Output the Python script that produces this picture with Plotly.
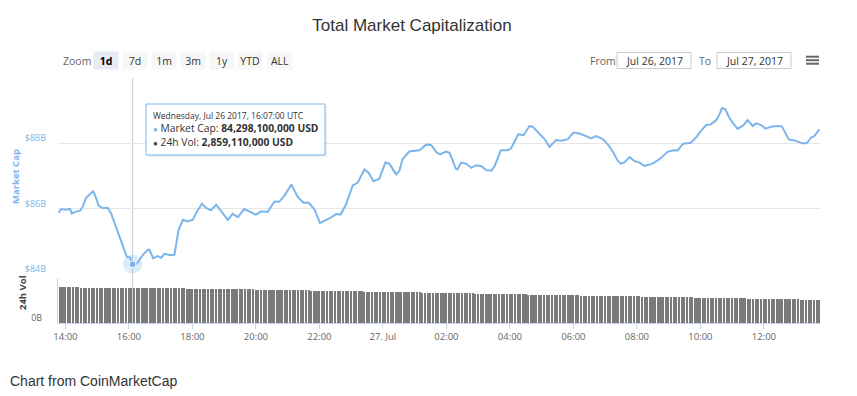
import plotly.graph_objects as go
import pandas as pd

# ---------------- DATA ----------------
cap_times = [
    "2017-07-26 13:47", "2017-07-26 13:52", "2017-07-26 14:01", "2017-07-26 14:09", "2017-07-26 14:12",
    "2017-07-26 14:20", "2017-07-26 14:28", "2017-07-26 14:33", "2017-07-26 14:39", "2017-07-26 14:52",
    "2017-07-26 14:55", "2017-07-26 15:03", "2017-07-26 15:10", "2017-07-26 15:20", "2017-07-26 15:26",
    "2017-07-26 15:33", "2017-07-26 15:42", "2017-07-26 15:48", "2017-07-26 15:56", "2017-07-26 16:02",
    "2017-07-26 16:07", "2017-07-26 16:15", "2017-07-26 16:26", "2017-07-26 16:36", "2017-07-26 16:39",
    "2017-07-26 16:46", "2017-07-26 16:54", "2017-07-26 17:01", "2017-07-26 17:07", "2017-07-26 17:17",
    "2017-07-26 17:26", "2017-07-26 17:34", "2017-07-26 17:42", "2017-07-26 17:51", "2017-07-26 18:01",
    "2017-07-26 18:07", "2017-07-26 18:18", "2017-07-26 18:26", "2017-07-26 18:35", "2017-07-26 18:45",
    "2017-07-26 18:54", "2017-07-26 19:07", "2017-07-26 19:16", "2017-07-26 19:26", "2017-07-26 19:38",
    "2017-07-26 19:48", "2017-07-26 20:00", "2017-07-26 20:10", "2017-07-26 20:22", "2017-07-26 20:35",
    "2017-07-26 20:44", "2017-07-26 20:54", "2017-07-26 21:07", "2017-07-26 21:19", "2017-07-26 21:30",
    "2017-07-26 21:40", "2017-07-26 21:51", "2017-07-26 22:01", "2017-07-26 22:13", "2017-07-26 22:22",
    "2017-07-26 22:32", "2017-07-26 22:40", "2017-07-26 22:50", "2017-07-26 23:03", "2017-07-26 23:12",
    "2017-07-26 23:25", "2017-07-26 23:33", "2017-07-26 23:42", "2017-07-26 23:53", "2017-07-27 00:05",
    "2017-07-27 00:12", "2017-07-27 00:25", "2017-07-27 00:31", "2017-07-27 00:37", "2017-07-27 00:50",
    "2017-07-27 01:09", "2017-07-27 01:22", "2017-07-27 01:31", "2017-07-27 01:41", "2017-07-27 01:48",
    "2017-07-27 01:59", "2017-07-27 02:06", "2017-07-27 02:18", "2017-07-27 02:21", "2017-07-27 02:28",
    "2017-07-27 02:37", "2017-07-27 02:47", "2017-07-27 02:56", "2017-07-27 03:06", "2017-07-27 03:15",
    "2017-07-27 03:25", "2017-07-27 03:31", "2017-07-27 03:43", "2017-07-27 03:56", "2017-07-27 04:02",
    "2017-07-27 04:16", "2017-07-27 04:26", "2017-07-27 04:37", "2017-07-27 04:43", "2017-07-27 04:53",
    "2017-07-27 05:05", "2017-07-27 05:15", "2017-07-27 05:27", "2017-07-27 05:37", "2017-07-27 05:49",
    "2017-07-27 06:00", "2017-07-27 06:11", "2017-07-27 06:24", "2017-07-27 06:33", "2017-07-27 06:43",
    "2017-07-27 06:55", "2017-07-27 07:05", "2017-07-27 07:14", "2017-07-27 07:24", "2017-07-27 07:30",
    "2017-07-27 07:36", "2017-07-27 07:46", "2017-07-27 07:55", "2017-07-27 08:05", "2017-07-27 08:14",
    "2017-07-27 08:24", "2017-07-27 08:33", "2017-07-27 08:46", "2017-07-27 08:58", "2017-07-27 09:08",
    "2017-07-27 09:17", "2017-07-27 09:27", "2017-07-27 09:42", "2017-07-27 09:52", "2017-07-27 10:01",
    "2017-07-27 10:11", "2017-07-27 10:20", "2017-07-27 10:30", "2017-07-27 10:36", "2017-07-27 10:41",
    "2017-07-27 10:47", "2017-07-27 10:55", "2017-07-27 11:02", "2017-07-27 11:10", "2017-07-27 11:20",
    "2017-07-27 11:29", "2017-07-27 11:39", "2017-07-27 11:45", "2017-07-27 11:55", "2017-07-27 12:03",
    "2017-07-27 12:14", "2017-07-27 12:23", "2017-07-27 12:34", "2017-07-27 12:39", "2017-07-27 12:47",
    "2017-07-27 12:58", "2017-07-27 13:06", "2017-07-27 13:13", "2017-07-27 13:21", "2017-07-27 13:29",
    "2017-07-27 13:35", "2017-07-27 13:45",
]
# Market cap, billions USD
cap_values = [
    85.87, 85.99, 85.97, 85.99, 85.85, 85.91, 85.94, 86.07, 86.33, 86.53,
    86.46, 86.09, 86.02, 86.02, 85.87, 85.56, 85.10, 84.89, 84.53, 84.51,
    84.298, 84.31, 84.58, 84.74, 84.74, 84.48, 84.55, 84.50, 84.62, 84.58,
    84.59, 85.35, 85.66, 85.61, 85.66, 85.87, 86.15, 86.02, 85.95, 86.12,
    85.92, 85.66, 85.84, 85.74, 85.99, 85.92, 85.82, 85.92, 85.90, 86.22,
    86.21, 86.40, 86.74, 86.36, 86.18, 86.18, 85.97, 85.56, 85.66, 85.73,
    85.84, 85.82, 86.12, 86.71, 86.79, 87.20, 87.10, 86.84, 86.91, 87.42,
    87.38, 87.05, 87.15, 87.51, 87.75, 87.79, 87.96, 87.95, 87.73, 87.66,
    87.75, 87.71, 87.22, 87.20, 87.41, 87.38, 87.25, 87.33, 87.30, 87.18,
    87.16, 87.30, 87.79, 87.79, 87.84, 88.28, 88.25, 88.53, 88.51, 88.35,
    88.14, 87.89, 88.10, 88.08, 88.12, 88.33, 88.30, 88.22, 88.15, 88.22,
    88.14, 87.97, 87.76, 87.46, 87.38, 87.41, 87.58, 87.46, 87.41, 87.31,
    87.35, 87.41, 87.56, 87.74, 87.79, 87.78, 87.99, 88.02, 88.18, 88.38,
    88.56, 88.58, 88.71, 88.89, 89.08, 89.05, 88.77, 88.61, 88.45, 88.53,
    88.71, 88.53, 88.61, 88.56, 88.45, 88.51, 88.53, 88.52, 88.38, 88.12,
    88.09, 88.04, 88.00, 88.00, 88.18, 88.22, 88.43,
]

# 24h volume, billions USD, one bar every 5 minutes starting 13:50 (rows = hours)
vol_start = "2017-07-26 13:50"
vol_values = [
    2.96, 2.96, 2.96, 2.95, 2.95, 2.92, 2.92, 2.92, 2.91, 2.91, 2.91, 2.91,
    2.90, 2.90, 2.90, 2.89, 2.89, 2.89, 2.88, 2.88, 2.88, 2.87, 2.87, 2.87,
    2.87, 2.86, 2.86, 2.86, 2.86, 2.86, 2.86, 2.88, 2.88, 2.87, 2.86, 2.86,
    2.86, 2.86, 2.85, 2.85, 2.85, 2.85, 2.85, 2.84, 2.84, 2.84, 2.84, 2.84,
    2.83, 2.83, 2.83, 2.83, 2.82, 2.82, 2.82, 2.82, 2.81, 2.81, 2.81, 2.80,
    2.80, 2.80, 2.79, 2.79, 2.79, 2.78, 2.78, 2.78, 2.77, 2.77, 2.77, 2.76,
    2.76, 2.76, 2.75, 2.75, 2.75, 2.74, 2.74, 2.74, 2.73, 2.73, 2.72, 2.72,
    2.72, 2.71, 2.71, 2.70, 2.70, 2.70, 2.69, 2.69, 2.68, 2.68, 2.68, 2.67,
    2.67, 2.66, 2.66, 2.66, 2.65, 2.65, 2.64, 2.64, 2.64, 2.63, 2.63, 2.62,
    2.62, 2.62, 2.61, 2.61, 2.60, 2.60, 2.60, 2.59, 2.59, 2.58, 2.58, 2.58,
    2.57, 2.57, 2.56, 2.56, 2.56, 2.55, 2.55, 2.54, 2.54, 2.54, 2.53, 2.53,
    2.52, 2.52, 2.52, 2.51, 2.51, 2.50, 2.50, 2.50, 2.49, 2.49, 2.48, 2.48,
    2.48, 2.47, 2.47, 2.46, 2.46, 2.46, 2.45, 2.45, 2.44, 2.44, 2.44, 2.43,
    2.43, 2.42, 2.42, 2.42, 2.41, 2.41, 2.40, 2.40, 2.40, 2.39, 2.39, 2.38,
    2.38, 2.38, 2.37, 2.37, 2.36, 2.36, 2.36, 2.35, 2.35, 2.34, 2.34, 2.34,
    2.33, 2.33, 2.32, 2.32, 2.32, 2.31, 2.31, 2.30, 2.30, 2.30, 2.29, 2.29,
    2.28, 2.28, 2.28, 2.27, 2.27, 2.26, 2.26, 2.26, 2.25, 2.25, 2.24, 2.24,
    2.24, 2.23, 2.23, 2.22, 2.22, 2.22, 2.21, 2.21, 2.20, 2.20, 2.20, 2.19,
    2.19, 2.18, 2.18, 2.18, 2.17, 2.17, 2.16, 2.16, 2.16, 2.15, 2.15, 2.14,
    2.14, 2.14, 2.13, 2.13, 2.12, 2.12, 2.12, 2.11, 2.11, 2.10, 2.10, 2.10,
    2.09, 2.09, 2.08, 2.08, 2.08, 2.07, 2.07, 2.06, 2.06, 2.06, 2.05, 2.05,
    2.04, 2.04, 2.04, 2.03, 2.03, 2.02, 2.02, 2.02, 2.01, 2.01, 2.00, 2.00,
    2.00, 1.99, 1.99, 1.98, 1.98, 1.98, 1.97, 1.97, 1.96, 1.96, 1.96, 1.95,
    1.95, 1.94, 1.94, 1.94, 1.93, 1.93, 1.92, 1.92, 1.92, 1.91, 1.91, 1.90,
]

x_tick_times = ["2017-07-26 14:00", "2017-07-26 16:00", "2017-07-26 18:00", "2017-07-26 20:00",
                "2017-07-26 22:00", "2017-07-27 00:00", "2017-07-27 02:00", "2017-07-27 04:00",
                "2017-07-27 06:00", "2017-07-27 08:00", "2017-07-27 10:00", "2017-07-27 12:00"]
x_tick_labels = ["14:00", "16:00", "18:00", "20:00", "22:00", "27. Jul",
                 "02:00", "04:00", "06:00", "08:00", "10:00", "12:00"]
cap_tick_vals = [84, 86, 88, 90]
cap_tick_labels = ["$84B", "$86B", "$88B", ""]
vol_tick_vals = [0, 3.7]
vol_tick_labels = ["0B", ""]

x_range = ["2017-07-26 13:46", "2017-07-27 13:46"]

hover_time = "2017-07-26 16:07"
hover_cap = 84.2981
hover_vol = 2.85911
hover_header = "Wednesday, Jul 26 2017, 16:07:00 UTC"

range_buttons = ["1d", "7d", "1m", "3m", "1y", "YTD", "ALL"]
date_from = "Jul 26, 2017"
date_to = "Jul 27, 2017"

# ---------------- LAYOUT HELPERS ----------------
W_FIG, H_FIG = 857, 396
OFF = 8                      # page body margin
L, R, T, B = 58, 820, 78, 323  # plot area in page pixels
PW, PH = R - L, B - T


def px(x):
    return (x - L) / PW


def py(y):
    return (B - y) / PH


vol_times = pd.date_range(vol_start, periods=len(vol_values), freq="5min")

BLUE = "#7cb5ec"
FONT = "Open Sans"

fig = go.Figure()

fig.add_trace(go.Bar(
    x=vol_times, y=vol_values, xaxis="x", yaxis="y2",
    marker=dict(color="#7a7a7a", line=dict(width=0)),
    width=5 * 60 * 1000 * 0.6,
))

fig.add_trace(go.Scatter(
    x=cap_times, y=cap_values, xaxis="x2", yaxis="y",
    mode="lines", line=dict(color=BLUE, width=2),
))

# hover halo + point
fig.add_trace(go.Scatter(
    x=[hover_time], y=[hover_cap], xaxis="x2", yaxis="y", mode="markers",
    marker=dict(size=19, color="rgba(124,181,236,0.25)", line=dict(width=0)),
))
fig.add_trace(go.Scatter(
    x=[hover_time], y=[hover_cap], xaxis="x2", yaxis="y", mode="markers",
    marker=dict(size=7, color=BLUE, line=dict(width=1, color="white")),
))

axis_line = "#ccd6eb"
grid = "#e6e6e6"

fig.update_layout(
    width=W_FIG, height=H_FIG,
    margin=dict(l=L - OFF, r=W_FIG - (R - OFF), t=T - OFF, b=H_FIG - (B - OFF)),
    paper_bgcolor="white", plot_bgcolor="white",
    showlegend=False, hovermode=False,
    bargap=0,
    title=dict(text="Total Market Capitalization", x=(412 - OFF) / W_FIG, xref="container", xanchor="center",
               y=1 - (25 - OFF) / H_FIG, yref="container", yanchor="middle",
               font=dict(family="Liberation Sans", size=17, color="#333333")),
    xaxis=dict(domain=[0, 1], anchor="y2", type="date", range=x_range,
               tickvals=x_tick_times, ticktext=x_tick_labels,
               ticks="outside", ticklen=5, tickcolor=axis_line, tickwidth=1,
               showline=True, linecolor=axis_line, linewidth=1, showgrid=False, zeroline=False,
               tickfont=dict(family=FONT, size=9.5, color="#666666")),
    xaxis2=dict(domain=[0, 1], anchor="y", matches="x", type="date",
                showticklabels=False, ticks="", showline=False, showgrid=False, zeroline=False),
    yaxis=dict(domain=[py(274), 1], range=[84, 90], tickvals=cap_tick_vals, ticktext=cap_tick_labels,
               showgrid=True, gridcolor=grid, gridwidth=1, zeroline=False, showline=False,
               ticks="", ticklabelstandoff=11, ticklabelshift=-5,
               tickfont=dict(family=FONT, size=9, color=BLUE)),
    yaxis2=dict(domain=[0, py(278)], range=[0, 3.7], tickvals=vol_tick_vals, ticktext=vol_tick_labels,
                showgrid=True, gridcolor=grid, gridwidth=1, zeroline=False,
                showline=True, linecolor=axis_line, linewidth=1,
                ticks="", ticklabelstandoff=13, ticklabelshift=-5,
                tickfont=dict(family=FONT, size=9, color="#666666")),
)

shapes = []
# crosshair
shapes.append(dict(type="line", xref="x", yref="paper", x0=hover_time, x1=hover_time, y0=0, y1=1,
                   line=dict(color="#cccccc", width=1), layer="below"))
# tooltip shadow + box
shapes.append(dict(type="rect", xref="paper", yref="paper",
                   x0=px(148), x1=px(327), y0=py(157), y1=py(106),
                   fillcolor="rgba(0,0,0,0.06)", line=dict(width=0)))
shapes.append(dict(type="rect", xref="paper", yref="paper",
                   x0=px(146), x1=px(325), y0=py(155), y1=py(104),
                   fillcolor="rgba(255,255,255,0.96)", line=dict(color=BLUE, width=1)))
# From / To boxes
for x0, x1 in [(617, 691), (717, 791)]:
    shapes.append(dict(type="rect", xref="paper", yref="paper",
                       x0=px(x0), x1=px(x1), y0=py(68.5), y1=py(52.5),
                       fillcolor="white", line=dict(color="#cccccc", width=1)))
# menu icon
for yy in [56.7, 60.2, 63.7]:
    shapes.append(dict(type="line", xref="paper", yref="paper",
                       x0=px(806), x1=px(819), y0=py(yy), y1=py(yy),
                       line=dict(color="#666666", width=2)))

annotations = []
# range selector
annotations.append(dict(text="Zoom", xref="paper", yref="paper", x=px(77), y=py(60.5),
                        xanchor="center", yanchor="middle", showarrow=False,
                        font=dict(family=FONT, size=10.5, color="#666666")))
btn_centers = [105.8, 134.7, 163.5, 192.5, 221.5, 250, 279.5]
for i, (lab, cx) in enumerate(zip(range_buttons, btn_centers)):
    sel = i == 0
    annotations.append(dict(
        text=f"<b>{lab}</b>" if sel else lab, xref="paper", yref="paper", x=px(cx), y=py(60.7),
        xanchor="center", yanchor="middle", showarrow=False, width=24, height=17, borderpad=0,
        bgcolor="#e6ebf5" if sel else "#f7f7f7",
        font=dict(family=FONT, size=10.5, color="#000000" if sel else "#333333")))
# From / To
annotations.append(dict(text="From", xref="paper", yref="paper", x=px(603), y=py(60.5),
                        xanchor="center", yanchor="middle", showarrow=False,
                        font=dict(family=FONT, size=10.5, color="#666666")))
annotations.append(dict(text="To", xref="paper", yref="paper", x=px(705), y=py(60.5),
                        xanchor="center", yanchor="middle", showarrow=False,
                        font=dict(family=FONT, size=10.5, color="#666666")))
for txt, cx in [(date_from, 654), (date_to, 754)]:
    annotations.append(dict(text=txt, xref="paper", yref="paper", x=px(cx), y=py(60.5),
                            xanchor="center", yanchor="middle", showarrow=False,
                            font=dict(family=FONT, size=10.5, color="#333333")))
# axis titles
annotations.append(dict(text="<b>Market Cap</b>", xref="paper", yref="paper", x=px(15), y=py(177),
                        xanchor="center", yanchor="middle", textangle=-90, showarrow=False,
                        font=dict(family=FONT, size=9.5, color=BLUE)))
annotations.append(dict(text="<b>24h Vol</b>", xref="paper", yref="paper", x=px(22), y=py(293),
                        xanchor="center", yanchor="middle", textangle=-90, showarrow=False,
                        font=dict(family=FONT, size=9.5, color="#434348")))
# tooltip text
cap_txt = f"{hover_cap * 1e9:,.0f}"
vol_txt = f"{hover_vol * 1e9:,.0f}"
annotations.append(dict(text=hover_header, xref="paper", yref="paper", x=px(151), y=py(115.5),
                        xanchor="left", yanchor="middle", showarrow=False,
                        font=dict(family=FONT, size=8.5, color="#333333")))
annotations.append(dict(text=f"<span style='color:{BLUE};font-size:8px'>●</span> Market Cap: <b>{cap_txt} USD</b>",
                        xref="paper", yref="paper", x=px(151), y=py(127.8),
                        xanchor="left", yanchor="middle", showarrow=False,
                        font=dict(family=FONT, size=10.3, color="#333333")))
annotations.append(dict(text=f"<span style='color:#434348;font-size:8px'>●</span> 24h Vol: <b>{vol_txt} USD</b>",
                        xref="paper", yref="paper", x=px(151), y=py(142),
                        xanchor="left", yanchor="middle", showarrow=False,
                        font=dict(family=FONT, size=10.3, color="#333333")))
# footer (page left edge is limited by the body margin)
annotations.append(dict(text="Chart from CoinMarketCap", xref="paper", yref="paper", x=px(OFF), y=py(381),
                        xanchor="left", yanchor="middle", showarrow=False,
                        font=dict(family="Liberation Sans", size=14, color="#333333")))

fig.update_layout(shapes=shapes, annotations=annotations)

fig.write_html("out.html")
